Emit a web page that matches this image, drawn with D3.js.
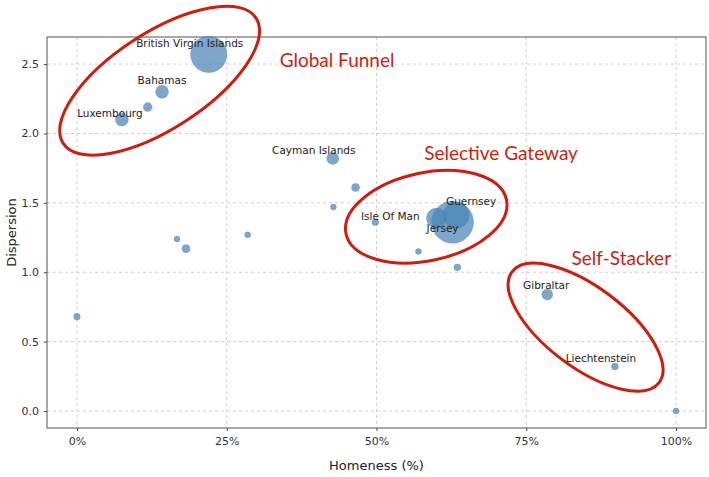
<!DOCTYPE html>
<html>
<head>
<meta charset="utf-8">
<script src="https://d3js.org/d3.v7.min.js"></script>
<style>
  body { margin: 0; background: #fff; }
  svg { display: block; }
</style>
</head>
<body>
<div id="chart"></div>
<script>
// data
const homeness   = [0.22, 0.142, 0.118, 0.075, 0.427, 0.465, 0.428, 0.167, 0.182, 0.285,
                    0.0, 0.498, 0.60, 0.627, 0.633, 0.57, 0.635, 0.785, 0.898, 1.0];
const dispersion = [2.57, 2.30, 2.19, 2.10, 1.82, 1.61, 1.47, 1.24, 1.17, 1.27,
                    0.68, 1.36, 1.39, 1.36, 1.41, 1.15, 1.035, 0.84, 0.32, 0.0];
const sizes      = [330, 42, 20, 42, 36, 16, 9, 9, 16, 9,
                    11, 11, 100, 440, 170, 9, 12, 30, 12, 9];
const names      = ["British Virgin Islands", "Bahamas", "", "Luxembourg", "Cayman Islands", "", "", "", "", "",
                    "", "Isle Of Man", "", "Jersey", "Guernsey", "", "", "Gibraltar", "Liechtenstein", ""];
const xTicks = [0, 0.25, 0.5, 0.75, 1.0];
const yTicks = [0.0, 0.5, 1.0, 1.5, 2.0, 2.5];

// cluster annotations: name, centre in data units
const clusters = [
  {name: "Global Funnel",     cx: 0.138, cy: 2.38},
  {name: "Selective Gateway", cx: 0.583, cy: 1.40},
  {name: "Self-Stacker",      cx: 0.849, cy: 0.604}
];

// label offsets (px) for point labels
const labelOffset = {
  "British Virgin Islands": [-19, -7],
  "Bahamas": [0, -8],
  "Luxembourg": [-12, -3],
  "Cayman Islands": [-19, -4],
  "Isle Of Man": [15, -2],
  "Guernsey": [15, -10],
  "Jersey": [-10, 10],
  "Gibraltar": [-1, -5],
  "Liechtenstein": [-14, -5]
};
// ellipse shapes (px) and red title positions (px from ellipse centre)
const ellipseShape = {
  "Global Funnel":     {rx: 115, ry: 48, rot: -33, tx: 120, ty: -14},
  "Selective Gateway": {rx: 82,  ry: 44, rot: -12, tx: -2,  ty: -57},
  "Self-Stacker":      {rx: 92,  ry: 40, rot: 37,  tx: -14, ty: -62}
};

const W = 709, H = 477;
const L = 47, T = 37, R = 706, B = 428;

const svg = d3.select("#chart").append("svg")
  .attr("width", W).attr("height", H)
  .style("font-family", "DejaVu Sans, sans-serif");

const x = d3.scaleLinear().domain([-0.05, 1.05]).range([L, R]);
const y = d3.scaleLinear().domain([-0.1225, 2.695]).range([B, T]);
const r = d3.scaleSqrt().domain([0, 440]).range([0, 21]);

// grid
svg.append("g").selectAll("line").data(xTicks).enter().append("line")
  .attr("x1", d => x(d)).attr("x2", d => x(d))
  .attr("y1", T).attr("y2", B)
  .attr("stroke", "#cfcfcf").attr("stroke-dasharray", "3,3");
svg.append("g").selectAll("line").data(yTicks).enter().append("line")
  .attr("y1", d => y(d)).attr("y2", d => y(d))
  .attr("x1", L).attr("x2", R)
  .attr("stroke", "#cfcfcf").attr("stroke-dasharray", "3,3");

// axes
const xAxis = svg.append("g")
  .attr("transform", `translate(0,${B})`)
  .call(d3.axisBottom(x).tickValues(xTicks).tickFormat(d3.format(".0%")).tickSize(3).tickPadding(6));
const yAxis = svg.append("g")
  .attr("transform", `translate(${L},0)`)
  .call(d3.axisLeft(y).tickValues(yTicks).tickFormat(d3.format(".1f")).tickSize(3).tickPadding(5));
[xAxis, yAxis].forEach(a => {
  a.select(".domain").remove();
  a.selectAll("text").attr("font-size", 11).attr("fill", "#333").style("font-family", "DejaVu Sans, sans-serif");
  a.selectAll("line").attr("stroke", "#444");
});

// frame
svg.append("rect")
  .attr("x", L).attr("y", T).attr("width", R - L).attr("height", B - T)
  .attr("fill", "none").attr("stroke", "#555").attr("stroke-width", 1);

// axis labels
svg.append("text")
  .attr("x", (L + R) / 2).attr("y", 470)
  .attr("text-anchor", "middle").attr("font-size", 13).attr("fill", "#222")
  .text("Homeness (%)");
svg.append("text")
  .attr("transform", `translate(16,${(T + B) / 2}) rotate(-90)`)
  .attr("text-anchor", "middle").attr("font-size", 13).attr("fill", "#222")
  .text("Dispersion");

// bubbles
const pts = homeness.map((h, i) => ({h, d: dispersion[i], s: sizes[i], name: names[i]}));
svg.append("g").selectAll("circle").data(pts).enter().append("circle")
  .attr("cx", d => x(d.h)).attr("cy", d => y(d.d)).attr("r", d => r(d.s))
  .attr("fill", "#4682b4").attr("fill-opacity", 0.7)
  .attr("stroke", "#4682b4").attr("stroke-opacity", 0.5).attr("stroke-width", 0.6);

// point labels
svg.append("g").selectAll("text").data(pts.filter(d => d.name)).enter().append("text")
  .attr("x", d => x(d.h) + labelOffset[d.name][0])
  .attr("y", d => y(d.d) + labelOffset[d.name][1])
  .attr("text-anchor", "middle").attr("font-size", 10.5).attr("fill", "#222")
  .text(d => d.name);

// cluster ellipses and titles
clusters.forEach(c => {
  const e = ellipseShape[c.name];
  const px = x(c.cx), py = y(c.cy);
  svg.append("ellipse")
    .attr("cx", 0).attr("cy", 0).attr("rx", e.rx).attr("ry", e.ry)
    .attr("transform", `translate(${px},${py}) rotate(${e.rot})`)
    .attr("fill", "none").attr("stroke", "#d01c0c").attr("stroke-width", 3);
  svg.append("text")
    .attr("x", px + e.tx).attr("y", py + e.ty)
    .attr("font-family", "Lato, sans-serif").attr("font-size", 19)
    .attr("fill", "#cc1f10")
    .text(c.name);
});
</script>
</body>
</html>
